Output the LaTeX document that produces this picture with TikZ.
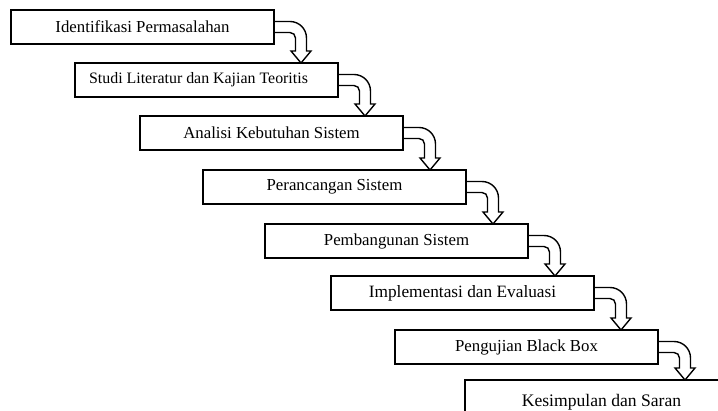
\documentclass[tikz,border=0pt]{standalone}
\usepackage{fontspec}
\setmainfont{Liberation Serif}
\usetikzlibrary{calc}
\begin{document}
\begin{tikzpicture}[x=1pt,y=-1pt,
  stage/.style={draw, line width=1.4pt, fill=white, anchor=north west,
    minimum width=263pt, minimum height=34pt, inner sep=0pt, outer sep=0pt,
    font=\fontsize{16.8}{20}\selectfont},
  ghost/.style={stage, draw=none, fill=none},
  bendarrow/.style={draw, line width=1.4pt, fill=white, line join=miter}]
\useasboundingbox (0,0) rectangle (718,411);
\clip (0,0) rectangle (718,411);

% hollow bent arrow leaving the right side of #1 and pointing down onto #2
\newcommand\stepdown[2]{%
  \path[bendarrow] let \p1=(#1.east), \p2=(#2.north) in
    (\x1,\y1+5.5pt) -- (\x1+16pt,\y1+5.5pt)
    arc[start angle=90,end angle=0,radius=16.5pt]
    -- (\x1+32.5pt,\y2+12pt) -- (\x1+37pt,\y2+12pt)
    -- (\x1+27pt,\y2) -- (\x1+17pt,\y2+12pt)
    -- (\x1+21.5pt,\y2+12pt) -- (\x1+21.5pt,\y1-11pt)
    arc[start angle=0,end angle=90,radius=5.5pt]
    -- (\x1,\y1-5.5pt);}

% top-left corners of the stages
\path (11,10)  coordinate (p1) (75,63)   coordinate (p2)
      (140,116) coordinate (p3) (203,170) coordinate (p4)
      (265,224) coordinate (p5) (331,276) coordinate (p6)
      (395,330) coordinate (p7) (465,380) coordinate (p8);

% outlines only, so the arrows can be laid underneath the boxes
\node[ghost] (a1) at (p1) {};
\node[ghost] (a2) at (p2) {};
\node[ghost] (a3) at (p3) {};
\node[ghost] (a4) at (p4) {};
\node[ghost] (a5) at (p5) {};
\node[ghost] (a6) at (p6) {};
\node[ghost] (a7) at (p7) {};
\node[ghost, minimum height=42pt] (a8) at (p8) {};

\stepdown{a1}{a2}
\stepdown{a2}{a3}
\stepdown{a3}{a4}
\stepdown{a4}{a5}
\stepdown{a5}{a6}
\stepdown{a6}{a7}
\stepdown{a7}{a8}

\node[stage] (s1) at (p1) {Identifikasi Permasalahan};
\node[stage, font=\fontsize{15.9}{19}\selectfont] (s2) at (p2)
  {Studi Literatur dan Kajian Teoritis\hspace*{16pt}};
\node[stage] (s3) at (p3) {Analisi Kebutuhan Sistem};
\node[stage] (s4) at (p4) {Perancangan Sistem};
\node[stage] (s5) at (p5) {Pembangunan Sistem};
\node[stage, font=\fontsize{17.3}{20}\selectfont] (s6) at (p6) {Implementasi dan Evaluasi};
\node[stage] (s7) at (p7) {Pengujian Black Box};
\node[stage, minimum height=44pt, font=\fontsize{17.6}{21}\selectfont] (s8) at (p8)
  {\hspace*{10pt}Kesimpulan dan Saran};
\end{tikzpicture}
\end{document}
